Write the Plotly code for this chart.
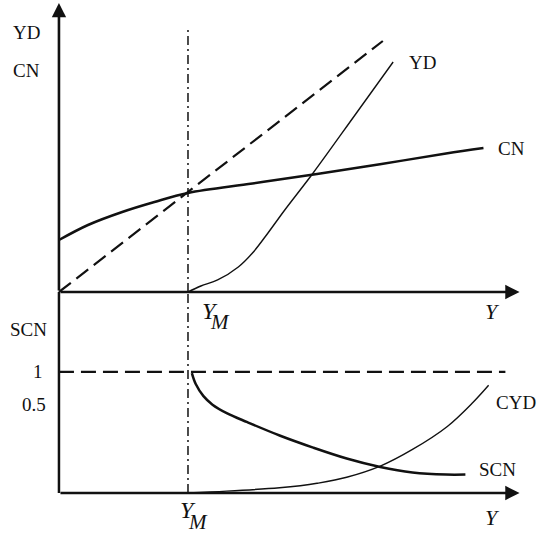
import plotly.graph_objects as go

# top panel: disposable income YD and consumption CN against income Y
cn_x = [0, 0.225, 0.49, 0.74, 1.0, 1.5, 2.0, 2.5, 3.0, 3.29]
cn_y = [0.52, 0.67, 0.80, 0.90, 0.99, 1.085, 1.18, 1.28, 1.385, 1.44]

yd_x = [1.0, 1.1, 1.23, 1.39, 1.5, 1.62, 1.75, 1.97, 2.3, 2.59]
yd_y = [0, 0.06, 0.12, 0.25, 0.39, 0.59, 0.82, 1.19, 1.78, 2.30]

diag_x = [0, 2.51]
diag_y = [0, 2.51]

# bottom panel: shares SCN and CYD
scn_x = [1.03, 1.06, 1.12, 1.19, 1.3, 1.46, 1.71, 1.97, 2.23, 2.49, 2.74, 3.0, 3.15]
scn_y = [0.99, 0.90, 0.80, 0.73, 0.66, 0.585, 0.475, 0.375, 0.285, 0.215, 0.17, 0.152, 0.152]

cyd_x = [1.0, 1.3, 1.71, 1.87, 2.0, 2.23, 2.49, 2.74, 3.01, 3.21, 3.33]
cyd_y = [0, 0.015, 0.043, 0.06, 0.08, 0.13, 0.222, 0.36, 0.55, 0.75, 0.89]

y_m = 1.0
one_level = 1.0
one_end = 3.46

black = "#111111"
font = dict(family="Liberation Serif", size=19, color=black)

fig = go.Figure()

fig.add_trace(go.Scatter(x=diag_x, y=diag_y, mode="lines",
                         line=dict(color=black, width=2.2, dash="15px,7px")))
fig.add_trace(go.Scatter(x=cn_x, y=cn_y, mode="lines", line_shape="spline",
                         line=dict(color=black, width=2.5)))
fig.add_trace(go.Scatter(x=yd_x, y=yd_y, mode="lines", line_shape="spline",
                         line=dict(color=black, width=1.4)))
fig.add_trace(go.Scatter(x=[y_m, y_m], y=[0, 2.64], mode="lines",
                         line=dict(color=black, width=1.5, dash="9px,4px,2px,4px")))

fig.add_trace(go.Scatter(x=[0, one_end], y=[one_level, one_level], mode="lines", yaxis="y2",
                         line=dict(color=black, width=2.2, dash="15px,7px")))
fig.add_trace(go.Scatter(x=scn_x, y=scn_y, mode="lines", line_shape="spline", yaxis="y2",
                         line=dict(color=black, width=2.5)))
fig.add_trace(go.Scatter(x=cyd_x, y=cyd_y, mode="lines", line_shape="spline", yaxis="y2",
                         line=dict(color=black, width=1.4)))
fig.add_trace(go.Scatter(x=[y_m, y_m], y=[0, 1.661], mode="lines", yaxis="y2",
                         line=dict(color=black, width=1.5, dash="9px,4px,2px,4px")))
fig.add_trace(go.Scatter(x=[0, 0], y=[0, 1.661], mode="lines", yaxis="y2",
                         line=dict(color=black, width=2.5)))

def arrow(x, y, ax, ay, yref):
    fig.add_annotation(x=x, y=y, ax=ax, ay=ay, xref="x", yref=yref, axref="x", ayref=yref,
                       text="", showarrow=True, arrowhead=2, arrowsize=1.1,
                       arrowwidth=2.6, arrowcolor=black, standoff=0)

arrow(0, 2.89, 0, 0, "y")
arrow(3.57, 0, 0, 0, "y")
arrow(3.57, 0, 0, 0, "y2")

labels = [
    (-0.248, 2.60, "YD", "y", 19),
    (-0.248, 2.22, "CN", "y", 19),
    (2.82, 2.30, "YD", "y", 19),
    (3.51, 1.44, "CN", "y", 19),
    (1.17, 1.50, "<i>Y</i>", "y2", 24),
    (1.25, 1.41, "<i>M</i>", "y2", 21),
    (3.36, 1.50, "<i>Y</i>", "y2", 22),
    (-0.24, 1.35, "SCN", "y2", 19),
    (-0.163, 1.0, "1", "y2", 19),
    (-0.19, 0.73, "0.5", "y2", 19),
    (3.54, 0.75, "CYD", "y2", 19),
    (3.40, 0.19, "SCN", "y2", 19),
    (1.0, -0.14, "<i>Y</i>", "y2", 24),
    (1.08, -0.24, "<i>M</i>", "y2", 21),
    (3.36, -0.20, "<i>Y</i>", "y2", 22),
]
for lx, ly, txt, yref, size in labels:
    fig.add_annotation(x=lx, y=ly, xref="x", yref=yref, text=txt, showarrow=False,
                       font=dict(family=font["family"], size=size, color=black))

axis_off = dict(visible=False, showgrid=False, zeroline=False, fixedrange=True)
fig.update_layout(
    width=541, height=534,
    margin=dict(l=0, r=0, t=0, b=0),
    paper_bgcolor="white", plot_bgcolor="white",
    showlegend=False,
    xaxis=dict(range=[-0.457, 3.736], **axis_off),
    yaxis=dict(range=[0, 2.92], domain=[0.4532, 1], **axis_off),
    yaxis2=dict(range=[-0.339, 1.661], domain=[0, 0.4532], **axis_off),
)

fig.write_html("out.html", config={"displayModeBar": False},
               post_script="document.body.style.margin='0';")
